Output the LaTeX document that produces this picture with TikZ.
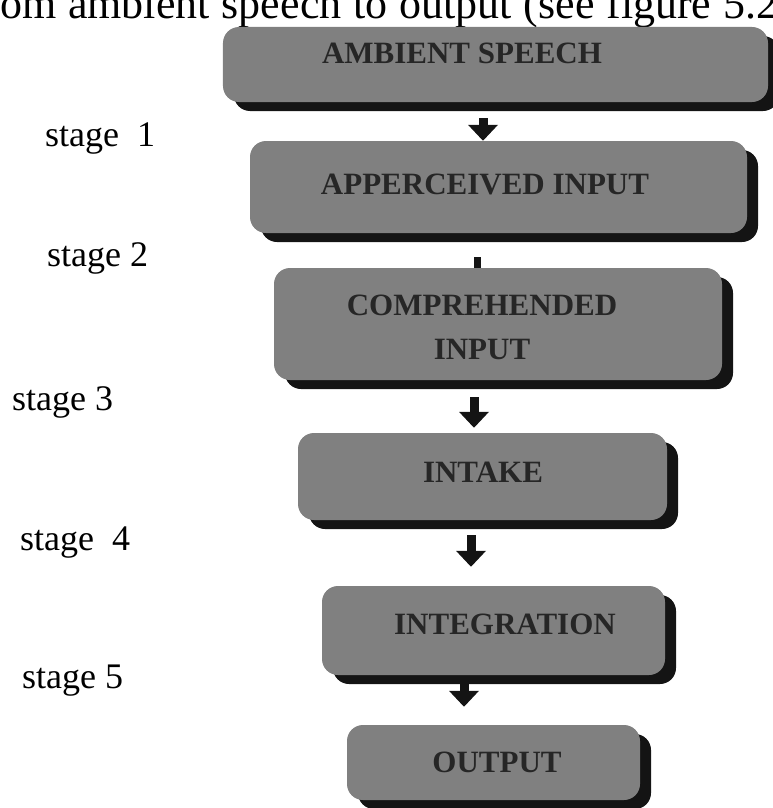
\documentclass[tikz,border=0pt]{standalone}
\usepackage{fontspec}
\setmainfont{Liberation Serif}
\usetikzlibrary{arrows.meta,shadows}
\tikzset{
  boxshape/.style={draw=none, fill=black!50, rounded corners=16bp, inner sep=0pt,
    general shadow={fill=black!92, shadow xshift=11bp, shadow yshift=-9bp}},
  boxtext/.style={text=black!85, font=\fontsize{31bp}{44bp}\selectfont\bfseries, align=center, inner sep=0pt},
  stagetext/.style={font=\fontsize{36bp}{40bp}\selectfont, anchor=base west, inner sep=0pt},
  flowarrow/.style={line width=9bp, draw=black!92, -{Triangle[width=29bp,length=16bp]}},
  stubline/.style={line width=7bp, draw=black!92},
}
\begin{document}
\begin{tikzpicture}[x=1bp,y=-1bp]
\useasboundingbox (0,0) rectangle (773,808);
\clip (0,0) rectangle (773,808);

% title line (cut off in the reference)
\node[anchor=base west, inner sep=0pt, font=\fontsize{44bp}{48bp}\selectfont] (title) at (0,19)
  {\makebox[778bp][s]{om ambient speech to output (see figure 5.2}};

% boxes
\node[boxshape, minimum width=545bp, minimum height=75bp] (b1) at (495.5,64.5) {};
\node[boxshape, minimum width=497bp, minimum height=92bp] (b2) at (498.5,187) {};
\node[boxshape, minimum width=448bp, minimum height=112bp] (b3) at (498,324) {};
\node[boxshape, minimum width=369bp, minimum height=87bp] (b4) at (482.5,476.5) {};
\node[boxshape, minimum width=343bp, minimum height=89bp] (b5) at (493.5,630.5) {};
\node[boxshape, minimum width=293bp, minimum height=75bp] (b6) at (493.5,762.5) {};

% box texts
\node[boxtext] (t1) at (462,53) {AMBIENT SPEECH};
\node[boxtext] (t2) at (485,184) {APPERCEIVED INPUT};
\node[boxtext] (t3) at (482,327) {COMPREHENDED\\INPUT};
\node[boxtext] (t4) at (483,472) {INTAKE};
\node[boxtext] (t5) at (505,624) {INTEGRATION};
\node[boxtext] (t6) at (497,762) {OUTPUT};

% stage labels
\node[stagetext] (s1) at (45,146) {stage\ \ 1};
\node[stagetext] (s2) at (47,266) {stage 2};
\node[stagetext] (s3) at (12,410) {stage 3};
\node[stagetext] (s4) at (20,550) {stage\ \ 4};
\node[stagetext] (s5) at (22,688) {stage 5};

% connectors
\coordinate (x1) at (483,120);
\coordinate (x2) at (477,260);
\coordinate (x3) at (474,410);
\coordinate (x4) at (471,550);
\coordinate (x5) at (464,695);
\draw[flowarrow, shorten <=16bp] (b1.south -| x1) -- (b2.north -| x1);
\draw[stubline, shorten <=24bp] (b2.south -| x2) -- (b3.north -| x2);
\draw[flowarrow, shorten <=17bp, shorten >=5bp] (b3.south -| x3) -- (b4.north -| x3);
\draw[flowarrow, shorten <=15bp, shorten >=19bp] (b4.south -| x4) -- (b5.north -| x4);
\draw[flowarrow, shorten <=8bp, shorten >=18bp] (b5.south -| x5) -- (b6.north -| x5);
\end{tikzpicture}
\end{document}
